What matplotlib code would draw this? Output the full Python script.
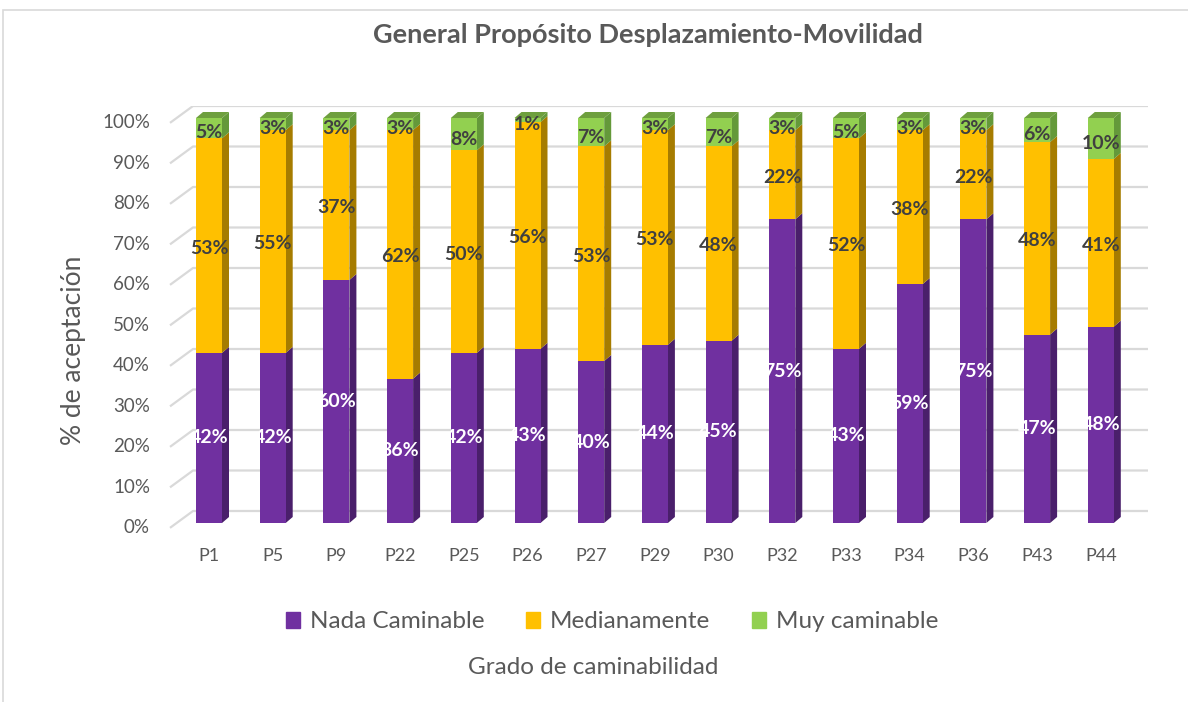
import numpy as np
import matplotlib
matplotlib.use('Agg')
import matplotlib.pyplot as plt
from matplotlib.patches import Polygon, Rectangle

# data
categories = ['P1', 'P5', 'P9', 'P22', 'P25', 'P26', 'P27', 'P29', 'P30',
              'P32', 'P33', 'P34', 'P36', 'P43', 'P44']
nada = [42, 42, 60, 36, 42, 43, 40, 44, 45, 75, 43, 59, 75, 47, 48]
media = [53, 55, 37, 62, 50, 56, 53, 53, 48, 22, 52, 38, 22, 48, 41]
muy = [5, 3, 3, 3, 8, 1, 7, 3, 7, 3, 5, 3, 3, 6, 10]
series_names = ['Nada Caminable', 'Medianamente', 'Muy caminable']
yticks = [0, 10, 20, 30, 40, 50, 60, 70, 80, 90, 100]

front_cols = ['#7030A0', '#FFC000', '#92D050']
side_cols = ['#4A1F6B', '#A67C00', '#64993A']
top_cols = ['#5B2685', '#C99700', '#6E9F3E']
label_cols = ['white', '#404040', '#404040']

FONT = 'Lato'
GREY = '#595959'

W, H = 1188, 702
fig = plt.figure(figsize=(W / 100, H / 100), dpi=100)

# pixel layout of the plot area (x: category index, y: percent)
x0_px, step_px = 209, 63.7
y0_px, ten_px = 523, 40.5
xlim = (-0.7, 14.8)
ylim = (-3, 103)
left = x0_px + step_px * xlim[0]
right = x0_px + step_px * xlim[1]
bottom = y0_px - ten_px / 10 * ylim[0]
top = y0_px - ten_px / 10 * ylim[1]
ax = fig.add_axes([left / W, 1 - bottom / H, (right - left) / W, (bottom - top) / H])
ax.set_xlim(*xlim)
ax.set_ylim(*ylim)
for s in ax.spines.values():
    s.set_visible(False)

bw = 26 / step_px           # bar face width
dx = 7 / step_px            # depth in x
dy = 6 / ten_px * 10        # depth in y
gdy = 12 / ten_px * 10      # back wall offset for gridlines
gx_front, gx_back, gx_end = (170 - x0_px) / step_px, (193 - x0_px) / step_px, (1148 - x0_px) / step_px

# gridlines (3D floor/back wall look)
for v in yticks:
    ax.plot([gx_front, gx_back, gx_end], [v - 1.2, v + gdy, v + gdy],
            color='#D9D9D9', lw=1.6, zorder=0, solid_capstyle='butt')
    ax.text((150 - x0_px) / step_px, v - 1.2, f'{v}%', ha='right', va='center',
            fontsize=13.5, color=GREY, family=FONT, clip_on=False)

data = np.array([nada, media, muy], dtype=float)
pct = data / data.sum(axis=0) * 100
x = np.arange(len(categories))

bottoms = np.zeros(len(categories))
for k in range(3):
    vals = pct[k]
    ax.bar(x, vals, bw, bottom=bottoms, color=front_cols[k], zorder=2, linewidth=0)
    for i in range(len(x)):
        xr = x[i] + bw / 2
        y1, y2 = bottoms[i], bottoms[i] + vals[i]
        ax.add_patch(Polygon([(xr, y1), (xr + dx, y1 + dy), (xr + dx, y2 + dy), (xr, y2)],
                             closed=True, facecolor=side_cols[k], lw=0, zorder=1.9))
        if k == 2:
            xl = x[i] - bw / 2
            ax.add_patch(Polygon([(xl, y2), (xl + dx, y2 + dy), (xr + dx, y2 + dy), (xr, y2)],
                                 closed=True, facecolor=top_cols[k], lw=0, zorder=1.9))
        ax.text(x[i], y1 + vals[i] / 2 - 0.6 * k, f'{int(data[k][i])}%', ha='center', va='center',
                fontsize=14, fontweight='bold', color=label_cols[k], family=FONT, zorder=3)
    bottoms += vals

ax.set_xticks(x)
ax.set_xticklabels(categories, family=FONT, fontsize=13, color=GREY)
ax.tick_params(axis='x', length=0, pad=9)
ax.set_yticks([])

fig.text(73 / W, 1 - 350 / H, '% de aceptación', rotation=90, ha='center', va='center',
         fontsize=19, color=GREY, family=FONT)
fig.text(648 / W, 1 - 35 / H, 'General Propósito Desplazamiento-Movilidad', ha='center',
         va='center', fontsize=19.5, fontweight='bold', color=GREY, family=FONT)

# legend
handles = [Rectangle((0, 0), 1, 1, color=c) for c in front_cols]
leg = fig.legend(handles, series_names, loc='center', bbox_to_anchor=(612 / W, 1 - 622 / H),
                 ncol=3, frameon=False, prop={'family': FONT, 'size': 17.5},
                 handlelength=0.6, handleheight=0.6, handletextpad=0.4, columnspacing=1.7)
for t in leg.get_texts():
    t.set_color(GREY)
fig.text(593 / W, 1 - 668 / H, 'Grado de caminabilidad', ha='center', va='center',
         fontsize=17.5, color=GREY, family=FONT)

# chart frame
fig.add_artist(Rectangle((3 / W, -0.1), 1.2, 1 - 10 / H + 0.1, transform=fig.transFigure,
                         fill=False, edgecolor='#D9D9D9', lw=1.2))

fig.savefig('out.png', dpi=100)
